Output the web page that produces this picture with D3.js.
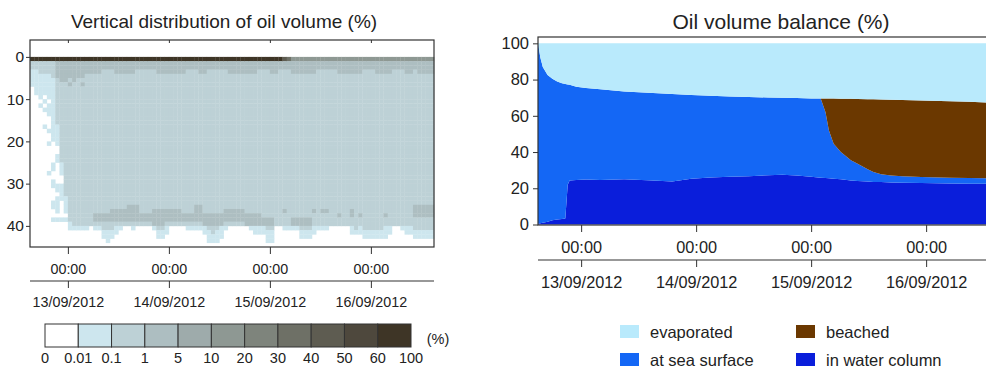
<!DOCTYPE html>
<html>
<head>
<meta charset="utf-8">
<script src="https://cdn.jsdelivr.net/npm/d3@7"></script>
<style>
  body { margin: 0; background: #fff; }
  svg { display: block; font-family: "Liberation Sans", Arial, Helvetica, sans-serif; }
</style>
</head>
<body>
<svg id="chart" width="986" height="367"></svg>
<script>
// ---------- shared time axis ----------
const startTime = new Date(2012, 8, 12, 15);
const endTime = new Date(2012, 8, 16, 15);
const dayTicks = [new Date(2012, 8, 13), new Date(2012, 8, 14), new Date(2012, 8, 15), new Date(2012, 8, 16)];
const dateLabels = ['13/09/2012', '14/09/2012', '15/09/2012', '16/09/2012'];

// ---------- vertical distribution (one column per hour, one row per metre) ----------
const classLabels = ['0', '0.01', '0.1', '1', '5', '10', '20', '30', '40', '50', '60', '100'];
const classColors = ['#ffffff', '#cde6ee', '#bdd1d6', '#adbec1', '#9eabab', '#8e9893',
                     '#7e847c', '#6e7066', '#5e5c51', '#4e483d', '#3e3526'];
const depthTicks = [0, 10, 20, 30, 40];
const nDepth = 45;

// class of the surface row
const surfaceClass = [
  10,10,10,10,10,10,10,10,10,10, 10,10,10,10,10,10,10,10,10,10,
  10,10,10,10,10,10,10,10,10,10, 10,10,10,10,10,10,10,10,10,10,
  10,10,10,10,10,10,10,10,10,10, 10,10,10,10,10,10,10,10,10,10,
  8,7,5,5,5,5,5,5,5,5, 5,5,5,5,5,5,5,5,5,5,
  5,5,5,5,5,5,5,5,5,5, 5,5,5,5,5,5];
// rows of 1-5 % just under the surface
const upperBand = [
  0,0,0,0,0,0, 4,5,5,4,4,4,4, 3,3,3,3, 2,2,2, 3,3,3,3,3, 2,2,2,2,2,
  3,3,3,3,3,3,3, 2,2,2, 3,3, 2,2,2,2,2, 3,3,3,3,3,3,3, 2,2,2, 3,3,
  2,2,2, 3,3,3,3,3,3, 2,2,2,2,2, 3,3,3,3,3,3, 2,2,2, 3,3,3,3, 2,2,2, 3,3, 2, 3,3,3,3];
// bottom of the 0.1-1 % plume
const plumeBottom = [
  3,3,4,4,4,5, 16,25,33,39, 40,40,40,40,40,40,40, 41,41,41,40,
  40,40,40,40,40,40,40,40,40, 41,41,40, 40,40,40,40,40,40,40,40,40,
  41,42,41,40, 40,40,40,40,40,40,40,40,40,40, 41,41, 40,40,40,40,40,40,
  41,41,41,40, 40,40,40, 40,40,40,40,40, 40,41,40, 41,41,41,41,41,40,40,
  40,40,40, 40,40, 41,41,41,41,41];
// bottom of the 0.01-0.1 % fringe
const fringeBottom = [
  7,9,12,13,14,16, 21,28,37,41, 41,41,41,41,40,41,41, 43,44,43,42,
  41,40,40,41,40,40,40,40,41, 43,43,42, 40,40,40,40,41,41,41,41,42,
  44,44,44,43, 41,40,40,40,40,40,41,42,42,42, 44,44, 40,40,41,41,41,41,
  43,43,43,42, 41,41,41, 40,40,40,40,40, 42,42,42, 43,43,43,43,43,43,42,
  40,40,41, 42,42, 43,43,43,43,43];
// deeper 1-5 % band (top row, bottom row exclusive; 0 = none)
const deepTop = [
  0,0,0,0,0,0,0,0,0,0,0,0,0,0,0, 37,37,37,37, 36,36,36,36, 35,35,35, 37,37,37,
  36,36,36, 36,36,36,36, 37,37,37, 35,35, 37,37,37,37,37, 36,36,36,36,36,
  37,37,37,37, 38,38,38, 0,0, 36, 0, 38,38,38,38,38, 36, 0, 36,36, 0,0, 37, 0,0,
  36, 0, 37, 0,0,0,0,0, 37, 0,0,0,0,0,0, 35,35,35,35,35];
const deepBottom = [
  0,0,0,0,0,0,0,0,0,0,0,0,0,0,0, 39,39,39,39, 39,39,39,39, 39,39,39, 39,39,39,
  40,40,40, 39,39,39,39, 39,39,39, 39,39, 40,40,40,40,40, 39,39,39,39,39,
  40,40,40,40, 40,40,40, 0,0, 37, 0, 40,40,40,40,40, 37, 0, 37,37, 0,0, 38, 0,0,
  38, 0, 38, 0,0,0,0,0, 38, 0,0,0,0,0,0, 38,38,38,38,38];
// isolated cells: [column, from row, to row, class]
const patches = [
  [2, 10, 11, 0], [3, 9, 10, 0], [3, 11, 12, 0], [4, 10, 11, 0],
  [3, 16, 17, 1], [4, 17, 18, 1], [4, 20, 21, 1], [5, 16, 20, 1], [4, 27, 28, 1],
  [5, 25, 27, 1], [5, 29, 31, 1], [5, 34, 36, 1], [6, 23, 25, 1], [6, 30, 32, 1],
  [6, 33, 37, 1], [5, 38, 39, 1], [6, 38, 39, 1], [7, 30, 34, 1], [7, 38, 39, 1],
  [8, 38, 39, 1], [9, 6, 7, 3], [10, 5, 6, 3], [12, 6, 7, 3]
];

// ---------- oil volume balance (%) ----------
const balanceHours = [0, 0.5, 1, 2, 3, 4, 5, 5.7, 6.2, 6.6, 8, 10, 13, 18, 24, 28, 32, 36, 40, 44,
  48, 51, 54, 57, 59, 60, 60.7, 61.7, 63.2, 65.3, 66.7, 68.8, 70, 71.6, 73.7, 76, 80, 86, 90, 96];
const inWaterColumn = [0.5, 0.7, 1, 1.5, 2.3, 2.8, 3, 3.3, 22, 24.3, 24.5, 24.8, 24.6, 25, 24.3, 23.8, 25.2, 26, 26.4, 26.7,
  27.2, 27.5, 27, 26.3, 25.8, 25.6, 25.5, 25.3, 25, 24.3, 24, 23.7, 23.5, 23.4, 23.2, 23.1, 22.9, 22.7, 22.5, 22.4];
const atSeaSurface = [99.5, 91.3, 86, 81, 78.2, 76.2, 75, 74.3, 55.3, 52.8, 51.5, 50.5, 50, 48.4, 48.3, 48.2, 46.3, 45.1, 44.3, 43.7,
  42.9, 42.4, 42.8, 43.3, 43.7, 36.4, 26.5, 19.3, 15, 11.2, 9.5, 6.8, 5.5, 4.4, 3.8, 3.5, 3.3, 3.1, 3.1, 3];
const beached = [0, 0, 0, 0, 0, 0, 0, 0, 0, 0, 0, 0, 0, 0, 0, 0, 0, 0, 0, 0,
  0, 0, 0, 0, 0, 7.5, 17.5, 24.9, 29.4, 33.9, 35.8, 38.7, 40.1, 41.2, 41.9, 42.1, 42.3, 42.2, 42.1, 41.8];
const evaporated = [0, 8, 13, 17.5, 19.5, 21, 22, 22.4, 22.7, 22.9, 24, 24.7, 25.4, 26.6, 27.4, 28, 28.5, 28.9, 29.3, 29.6,
  29.9, 30.1, 30.2, 30.4, 30.5, 30.5, 30.5, 30.5, 30.6, 30.6, 30.7, 30.8, 30.9, 31, 31.1, 31.3, 31.5, 32, 32.3, 32.8];
const balanceKeys = ['water', 'surface', 'beached', 'evaporated'];
const balanceNames = { evaporated: 'evaporated', beached: 'beached', surface: 'at sea surface', water: 'in water column' };
const balanceColors = { evaporated: '#b9eafc', surface: '#1467f5', beached: '#6b3800', water: '#0a1edb' };

// ---------- drawing ----------
const svg = d3.select('#chart');
const ink = '#222';
const hourMs = 3600 * 1000;
const atHour = h => new Date(startTime.getTime() + h * hourMs);

function styleAxis(size) {
  return g => {
    g.attr('font-family', null).attr('font-size', size);
    g.selectAll('.tick line').attr('stroke', '#333');
    g.selectAll('.tick text').attr('fill', ink);
    g.select('.domain').remove();
  };
}

// time axes under a panel: "00:00" row, then a separate date row
function drawTimeAxes(x, y0, y1, x0, x1, size, pad0, pad1) {
  svg.append('g')
    .attr('transform', `translate(0,${y0})`)
    .call(d3.axisBottom(x).tickValues(dayTicks).tickSize(7).tickPadding(pad0).tickFormat(() => '00:00'))
    .call(styleAxis(size));
  svg.append('line').attr('x1', x0).attr('x2', x1).attr('y1', y1).attr('y2', y1)
    .attr('stroke', '#333').attr('stroke-width', 1.2);
  svg.append('g')
    .attr('transform', `translate(0,${y1})`)
    .call(d3.axisBottom(x).tickValues(dayTicks).tickSize(7).tickPadding(pad1).tickFormat((d, i) => dateLabels[i]))
    .call(styleAxis(size));
}

// ===== left panel: vertical distribution =====
const L = { left: 30, right: 434, top: 40, bottom: 247 };
const xL = d3.scaleTime().domain([startTime, endTime]).range([L.left, L.right]);
const yL = d3.scaleLinear().domain([-4, 45]).range([L.top, L.bottom]);

const cells = [];
surfaceClass.forEach((s, i) => {
  for (let d = 0; d < nDepth; d++) {
    let c = 0;
    if (d === 0) c = s;
    else if (d <= upperBand[i]) c = 3;
    else if (d < plumeBottom[i]) c = 2;
    else if (d < fringeBottom[i]) c = 1;
    if (deepTop[i] && d >= deepTop[i] && d < deepBottom[i]) c = 3;
    cells.push({ col: i, depth: d, cls: c });
  }
});
patches.forEach(([col, from, to, cls]) => {
  cells.forEach(c => { if (c.col === col && c.depth >= from && c.depth < to) c.cls = cls; });
});

svg.append('g')
  .selectAll('rect')
  .data(cells.filter(c => c.cls > 0))
  .join('rect')
    .attr('x', c => xL(atHour(c.col)))
    .attr('y', c => yL(c.depth))
    .attr('width', c => xL(atHour(c.col + 1)) - xL(atHour(c.col)) + 0.3)
    .attr('height', c => yL(c.depth + 1) - yL(c.depth) + 0.3)
    .attr('fill', c => classColors[c.cls]);

svg.append('rect')
  .attr('x', L.left).attr('y', L.top)
  .attr('width', L.right - L.left).attr('height', L.bottom - L.top)
  .attr('fill', 'none').attr('stroke', '#333').attr('stroke-width', 1.2);

svg.append('g')
  .attr('transform', `translate(${L.left},0)`)
  .call(d3.axisLeft(yL).tickValues(depthTicks).tickSize(4).tickPadding(2))
  .call(styleAxis(15.5));
svg.append('g')
  .attr('transform', `translate(0,${L.top})`)
  .call(d3.axisTop(xL).tickValues(dayTicks).tickSize(-3).tickFormat(''))
  .call(styleAxis(14));

drawTimeAxes(xL, L.bottom, 281, L.left, L.right, 14.3, 10, 9);

svg.append('text')
  .attr('x', 224).attr('y', 28).attr('text-anchor', 'middle')
  .attr('font-size', 19).attr('fill', ink)
  .text('Vertical distribution of oil volume (%)');

// colour bar
const xBar = d3.scaleLinear().domain([0, classColors.length]).range([45, 411]);
const bar = svg.append('g');
bar.selectAll('rect')
  .data(classColors)
  .join('rect')
    .attr('x', (c, i) => xBar(i)).attr('y', 324)
    .attr('width', xBar(1) - xBar(0)).attr('height', 23)
    .attr('fill', c => c).attr('stroke', '#333').attr('stroke-width', 1);
bar.selectAll('text')
  .data(classLabels)
  .join('text')
    .attr('x', (t, i) => xBar(i)).attr('y', 363)
    .attr('text-anchor', 'middle').attr('font-size', 14.5).attr('fill', ink)
    .text(t => t);
svg.append('text').attr('x', 438).attr('y', 344).attr('text-anchor', 'middle')
  .attr('font-size', 14.5).attr('fill', ink).text('(%)');

// ===== right panel: oil volume balance =====
const R = { left: 538, right: 998, top: 37, bottom: 225 };
const xR = d3.scaleTime().domain([startTime, endTime]).range([R.left, R.right]);
const yR = d3.scaleLinear().domain([0, 103.5]).range([224.5, R.top]);

const balance = balanceHours.map((h, i) => ({
  time: atHour(h),
  water: inWaterColumn[i],
  surface: atSeaSurface[i],
  beached: beached[i],
  evaporated: evaporated[i]
}));
const stacked = d3.stack().keys(balanceKeys)(balance);
const area = d3.area()
  .x(d => xR(d.data.time))
  .y0(d => yR(d[0]))
  .y1(d => yR(d[1]));

svg.append('g')
  .selectAll('path')
  .data(stacked)
  .join('path')
    .attr('d', area)
    .attr('fill', s => balanceColors[s.key]);

svg.append('rect')
  .attr('x', R.left).attr('y', R.top)
  .attr('width', R.right - R.left).attr('height', R.bottom - R.top)
  .attr('fill', 'none').attr('stroke', '#333').attr('stroke-width', 1.2);

svg.append('g')
  .attr('transform', `translate(${R.left},0)`)
  .call(d3.axisLeft(yR).tickValues([0, 20, 40, 60, 80, 100]).tickSize(5).tickPadding(4))
  .call(styleAxis(16.5));

drawTimeAxes(xR, R.bottom, 260, R.left, R.right, 16.3, 9.5, 9.5);

svg.append('text')
  .attr('x', 781).attr('y', 29).attr('text-anchor', 'middle')
  .attr('font-size', 21).attr('fill', ink)
  .text('Oil volume balance (%)');

// legend
const legendItems = [
  { key: 'evaporated', x: 620, y: 325 },
  { key: 'beached', x: 796, y: 325 },
  { key: 'surface', x: 620, y: 353 },
  { key: 'water', x: 796, y: 353 }
];
const legend = svg.append('g')
  .selectAll('g')
  .data(legendItems)
  .join('g')
    .attr('transform', d => `translate(${d.x},${d.y})`);
legend.append('rect')
  .attr('width', 19).attr('height', 13)
  .attr('fill', d => balanceColors[d.key]);
legend.append('text')
  .attr('x', 30).attr('y', 12.5)
  .attr('font-size', 16.5).attr('fill', ink)
  .text(d => balanceNames[d.key]);
</script>
</body>
</html>
